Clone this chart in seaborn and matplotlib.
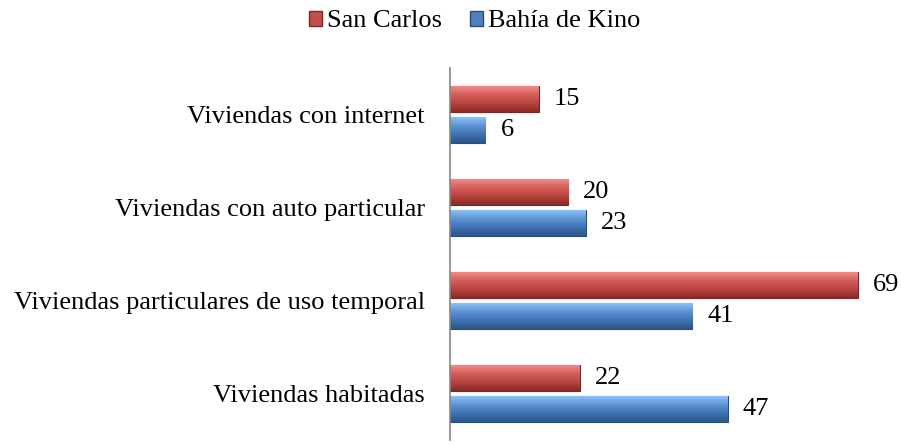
import numpy as np
import pandas as pd
import matplotlib.pyplot as plt
import seaborn as sns
from matplotlib.colors import to_rgb

# Data
categorias = ['Viviendas con internet', 'Viviendas con auto particular',
              'Viviendas particulares de uso temporal', 'Viviendas habitadas']
san_carlos = [15, 20, 69, 22]
bahia_kino = [6, 23, 41, 47]
series = ['San Carlos', 'Bahía de Kino']

df = pd.DataFrame({
    'categoria': categorias * 2,
    'valor': san_carlos + bahia_kino,
    'serie': [series[0]] * 4 + [series[1]] * 4,
})

sns.set_style('white')
plt.rcParams['font.family'] = ['Liberation Serif', 'DejaVu Serif']
plt.rcParams['text.color'] = 'black'
plt.rcParams['ytick.color'] = 'black'

fig = plt.figure(figsize=(9.01, 4.44), dpi=100)
ax = fig.add_axes([0.4994, 0.009, 0.472, 0.838])

colores = {'San Carlos': '#C0504D', 'Bahía de Kino': '#4F81BD'}
sns.barplot(data=df, y='categoria', x='valor', hue='serie', order=categorias,
            hue_order=series, palette=colores, orient='h', width=0.68, gap=0.18,
            saturation=1, ax=ax, legend=True)

ax.set_xlim(0, 72)
ylim = ax.get_ylim()

# bevel-like shading: light top, dark bottom
rampas = {
    'San Carlos': ['#F08A87', '#D25E5A', '#B8443F', '#8A2A27'],
    'Bahía de Kino': ['#8CC0F5', '#5C93D4', '#3F72B2', '#2A5689'],
}
bordes = {'San Carlos': '#7E2624', 'Bahía de Kino': '#274E7E'}
for cont, s in zip(ax.containers, series):
    pts = np.array([to_rgb(c) for c in rampas[s]])
    t = np.linspace(0, 1, 40)
    grad = np.stack([np.interp(t, np.linspace(0, 1, len(pts)), pts[:, k]) for k in range(3)], axis=1)
    for bar in cont:
        x0, y0 = bar.get_x(), bar.get_y()
        w, h = bar.get_width(), bar.get_height()
        im = ax.imshow(grad[:, None, :], extent=(x0, x0 + w, y0 + h, y0), aspect='auto',
                       interpolation='bilinear', zorder=bar.get_zorder() + 0.1)
        im.set_clip_path(bar)
        bar.set_edgecolor(bordes[s])
        bar.set_linewidth(0.8)
    ax.bar_label(cont, padding=11, fontsize=19, color='black')

ax.set_xlim(0, 72)
ax.set_ylim(ylim)
ax.set_xlabel('')
ax.set_ylabel('')
ax.set_xticks([])
ax.tick_params(axis='y', length=0, pad=18, labelsize=19)
for side in ['top', 'right', 'bottom']:
    ax.spines[side].set_visible(False)
ax.spines['left'].set_color('#868686')
ax.spines['left'].set_linewidth(1.2)

leg = ax.legend(loc='upper center', bbox_to_anchor=(0.527, 1.03), bbox_transform=fig.transFigure,
                ncol=2, frameon=False, fontsize=19, handlelength=0.5, handleheight=0.5,
                handletextpad=0.2, columnspacing=1.05)
for h, s in zip(leg.legend_handles, series):
    h.set_edgecolor(bordes[s])

fig.savefig('out.png', dpi=100)
